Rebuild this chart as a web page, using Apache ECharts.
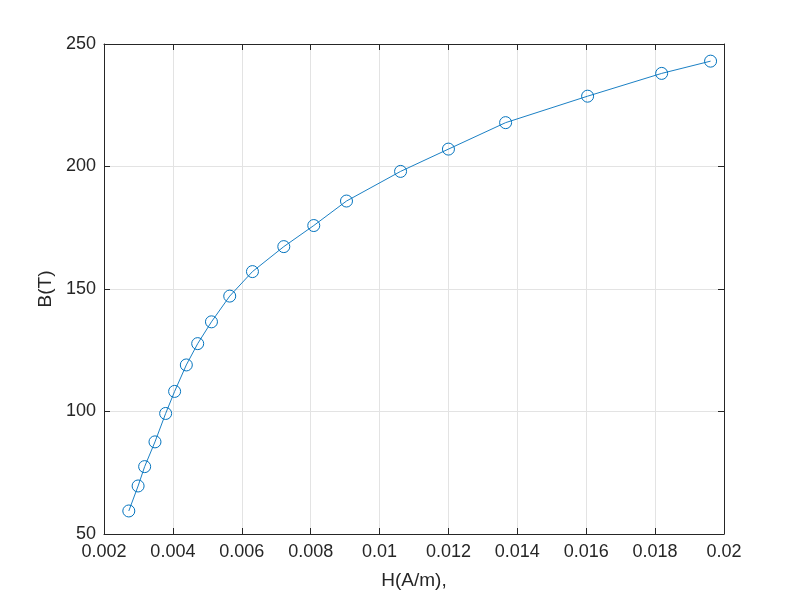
<!DOCTYPE html>
<html><head><meta charset="utf-8">
<script src="https://cdn.jsdelivr.net/npm/echarts@6/dist/echarts.min.js"></script>
<style>html,body{margin:0;padding:0;background:#fff}#c{width:800px;height:600px}</style>
</head><body><div id="c"></div>
<script>
const hValues = [0.00272,0.00299,0.00318,0.00348,0.00379,0.00405,0.00439,0.00472,0.00512,0.00565,0.00631,0.00722,0.00809,0.00904,0.01061,0.0120,0.01366,0.01604,0.01819,0.01961];
const bValues = [59.4,69.6,77.5,87.6,99.2,108.2,119.0,127.7,136.6,147.1,157.1,167.3,175.9,185.9,198.0,207.1,217.9,228.7,238.0,243.0];
const xTickLabels = ['0.002','0.004','0.006','0.008','0.01','0.012','0.014','0.016','0.018','0.02'];
const yTickLabels = ['50','100','150','200','250'];
const xName = 'H(A/m),';
const yName = 'B(T)';

const chart = echarts.init(document.getElementById('c'), null, {renderer:'canvas'});
const font = 'Liberation Sans, Arial, sans-serif';
const axisLineStyle = {color:'#262626', width:1};
const common = {
  axisLine:{show:true, onZero:false, lineStyle:axisLineStyle},
  axisTick:{show:true, inside:true, length:6, lineStyle:axisLineStyle},
};
option = {
  animation:false,
  grid:{left:104, right:76, top:44, bottom:66, show:false},
  xAxis:[{
    type:'value', min:0.002, max:0.02, interval:0.002, position:'bottom',
    ...common,
    splitLine:{show:true, lineStyle:{color:'#e3e3e3', width:1}},
    axisLabel:{color:'#262626', fontSize:18, fontFamily:font, margin:9,
      formatter:(v)=>{const i=Math.round((v-0.002)/0.002); return xTickLabels[i]!==undefined?xTickLabels[i]:'';}},
    name:xName, nameLocation:'middle', nameGap:37,
    nameTextStyle:{color:'#262626', fontSize:19, fontFamily:font}
  },{
    type:'value', min:0.002, max:0.02, interval:0.002, position:'top',
    ...common, splitLine:{show:false}, axisLabel:{show:false}
  }],
  yAxis:[{
    type:'value', min:50, max:250, interval:50, position:'left',
    ...common,
    splitLine:{show:true, lineStyle:{color:'#e3e3e3', width:1}},
    axisLabel:{color:'#262626', fontSize:18, fontFamily:font, margin:8,
      formatter:(v)=>{const i=Math.round((v-50)/50); return yTickLabels[i]!==undefined?yTickLabels[i]:'';}},
    name:yName, nameLocation:'middle', nameGap:47, nameRotate:90,
    nameTextStyle:{color:'#262626', fontSize:19, fontFamily:font}
  },{
    type:'value', min:50, max:250, interval:50, position:'right',
    ...common, splitLine:{show:false}, axisLabel:{show:false}
  }],
  series:[{
    type:'line',
    data:hValues.map((h,i)=>[h,bValues[i]]),
    symbol:'circle', symbolSize:12, showSymbol:true,
    lineStyle:{color:'#0072BD', width:0.9},
    itemStyle:{color:'rgba(0,0,0,0)', borderColor:'#0072BD', borderWidth:1},
    emphasis:{disabled:true}
  }]
};
chart.setOption(option);
</script></body></html>
